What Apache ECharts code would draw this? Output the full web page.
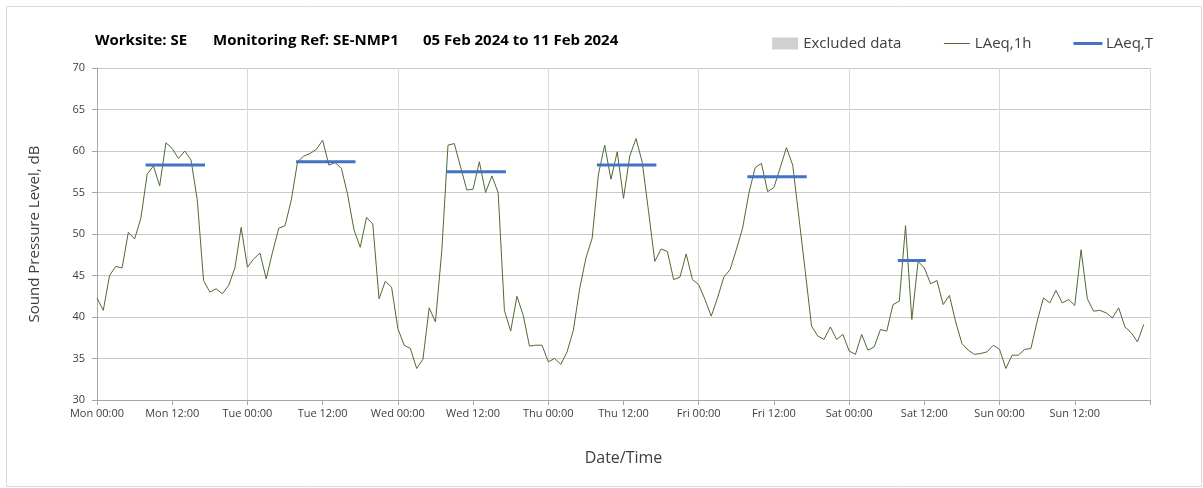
<!DOCTYPE html>
<html>
<head>
<meta charset="utf-8">
<script src="https://cdn.jsdelivr.net/npm/echarts@6/dist/echarts.min.js"></script>
<style>
html,body{margin:0;padding:0;background:#fff;}
#chart{width:1203px;height:488px;}
</style>
</head>
<body>
<div id="chart"></div>
<script>
// ---- data ----
const dayNames = ['Mon','Tue','Wed','Thu','Fri','Sat','Sun'];
const titleParts = ['Worksite: SE', 'Monitoring Ref: SE-NMP1', '05 Feb 2024 to 11 Feb 2024'];
// hourly LAeq,1h values, Mon 00:00 .. Sun 23:00
const laeq1h = [
  42.3,40.8,45.0,46.1,45.9,50.2,49.4,51.9,57.2,58.2,55.8,61.0,60.3,59.1,60.0,58.9,54.1,44.4,43.0,43.4,42.8,43.8,45.9,50.8,
  46.0,47.0,47.7,44.6,47.8,50.7,51.0,54.1,58.7,59.4,59.7,60.2,61.3,58.3,58.6,57.9,54.7,50.5,48.4,52.0,51.2,42.2,44.3,43.6,
  38.6,36.6,36.2,33.8,34.9,41.1,39.4,47.9,60.7,60.9,58.1,55.3,55.4,58.7,55.0,57.0,55.0,40.8,38.3,42.5,40.2,36.5,36.6,36.6,
  34.6,35.0,34.3,35.8,38.4,43.4,47.1,49.5,57.2,60.7,56.6,59.9,54.3,59.4,61.5,58.6,52.7,46.7,48.2,47.9,44.5,44.8,47.6,44.5,
  43.9,42.1,40.1,42.3,44.8,45.7,48.1,50.7,54.9,58.0,58.5,55.1,55.6,58.0,60.4,58.3,51.9,45.5,38.9,37.7,37.3,38.8,37.3,37.9,
  35.9,35.5,37.9,36.0,36.4,38.5,38.3,41.5,41.9,51.0,39.7,46.7,45.9,44.0,44.4,41.5,42.6,39.4,36.8,36.0,35.5,35.6,35.8,36.6,
  36.1,33.8,35.4,35.4,36.1,36.2,39.5,42.3,41.7,43.2,41.7,42.1,41.4,48.1,42.2,40.7,40.8,40.5,39.9,41.1,38.8,38.1,37.0,39.1
];
// LAeq,T daytime periods (hour index from Mon 00:00)
const laeqTStart = [8, 32, 56, 80, 104, 128];
const laeqTEnd   = [17, 41, 65, 89, 113, 132];
const laeqTValue = [58.3, 58.7, 57.5, 58.3, 56.9, 46.8];
const excludedData = [];

// ---- build ----
const lineData = laeq1h.map((v, i) => [i, v]);
const tData = [];
laeqTValue.forEach((v, i) => {
  tData.push([laeqTStart[i], v], [laeqTEnd[i], v], [laeqTEnd[i] + 0.5, '-']);
});

const chart = echarts.init(document.getElementById('chart'), null, {renderer: 'canvas'});
const font = '"Open Sans", Lato, sans-serif';
const titleStyle = {fontFamily: font, fontWeight: 'bold', fontSize: 15, fill: '#000'};
const option = {
  backgroundColor: '#fff',
  animation: false,
  textStyle: {fontFamily: font},
  legend: {
    top: 31, right: 45,
    itemWidth: 26, itemHeight: 12, itemGap: 42,
    textStyle: {fontFamily: font, fontSize: 15, color: '#404040'},
    data: [
      {name: 'Excluded data', icon: 'rect'},
      {name: 'LAeq,1h', itemStyle: {opacity: 0}, lineStyle: {width: 1}},
      {name: 'LAeq,T', itemStyle: {opacity: 0}, lineStyle: {width: 3}}
    ]
  },
  grid: {left: 97, right: 53, top: 68, bottom: 88, containLabel: false},
  xAxis: [{
    type: 'value', min: 0, max: 168, interval: 12,
    name: 'Date/Time', nameLocation: 'middle', nameGap: 50,
    nameTextStyle: {fontFamily: font, fontSize: 16, color: '#404040'},
    axisLine: {lineStyle: {color: '#a6a6a6', width: 1}},
    axisTick: {show: true, length: 5, lineStyle: {color: '#a6a6a6'}},
    splitLine: {show: false},
    axisLabel: {
      fontFamily: font, fontSize: 11, color: '#404040', margin: 8,
      formatter: v => v >= 168 ? '' : dayNames[Math.floor(v / 24)] + ' ' + (v % 24 === 0 ? '00:00' : '12:00')
    }
  }, {
    type: 'value', min: 0, max: 168, interval: 24,
    axisLine: {show: false}, axisTick: {show: false}, axisLabel: {show: false},
    splitLine: {show: true, lineStyle: {color: '#d9d9d9', width: 1}}
  }],
  yAxis: {
    type: 'value', min: 30, max: 70, interval: 5,
    name: 'Sound Pressure Level, dB', nameLocation: 'middle', nameGap: 55,
    nameTextStyle: {fontFamily: font, fontSize: 15, color: '#404040'},
    axisLine: {show: true, lineStyle: {color: '#a6a6a6'}},
    axisTick: {show: true, length: 5, lineStyle: {color: '#a6a6a6'}},
    axisLabel: {fontFamily: font, fontSize: 11, color: '#404040', margin: 12},
    splitLine: {show: true, lineStyle: {color: '#c8c8c8', width: 1}}
  },
  series: [
    {name: 'Excluded data', type: 'bar', data: excludedData, itemStyle: {color: '#d0d0d0'}},
    {name: 'LAeq,1h', type: 'line', data: lineData, symbol: 'none',
     lineStyle: {color: '#4f6b32', width: 1}, itemStyle: {color: '#4f6b32'}, z: 3},
    {name: 'LAeq,T', type: 'line', data: tData, symbol: 'none', connectNulls: false,
     lineStyle: {color: '#4472c4', width: 3, cap: 'square'}, itemStyle: {color: '#4472c4'}, z: 4}
  ],
  graphic: [
    {type: 'rect', left: 4, top: 4, z: -1, silent: true,
     shape: {width: 1195, height: 480},
     style: {fill: 'none', stroke: '#d9d9d9', lineWidth: 1}},
    {type: 'text', left: 95, top: 33, style: Object.assign({text: titleParts[0]}, titleStyle)},
    {type: 'text', left: 213, top: 33, style: Object.assign({text: titleParts[1]}, titleStyle)},
    {type: 'text', left: 423, top: 33, style: Object.assign({text: titleParts[2]}, titleStyle)}
  ]
};
chart.setOption(option);
</script>
</body>
</html>
